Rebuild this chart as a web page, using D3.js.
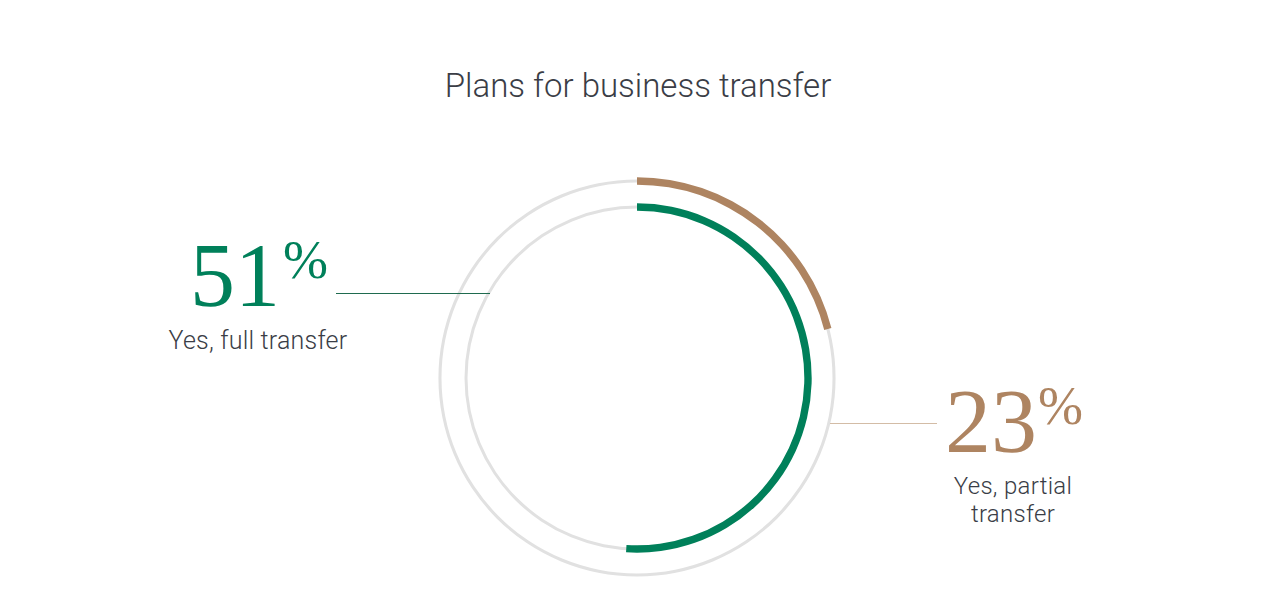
<!DOCTYPE html>
<html>
<head>
<meta charset="utf-8">
<script src="https://cdn.jsdelivr.net/npm/d3@7"></script>
<style>
  body { margin: 0; background: #fff; }
  svg { display: block; }
  .title { font-family: Roboto, sans-serif; font-weight: 300; fill: #3a3d46; }
  .label { font-family: Roboto, sans-serif; font-weight: 300; fill: #3a3d46; }
  .big { font-family: "Liberation Serif", serif; }
</style>
</head>
<body>
<div id="chart"></div>
<script>
// answers shown on the chart
var categories = ["Yes, full transfer", "Yes, partial transfer"];
var percents = [51, 23];
// how far each ring is actually filled in the picture
var arcShares = [51, 21];
var colors = ["#00805a", "#ae8461"];
var lineColors = ["#1f6b4f", "#d3bca6"];

drawRings();

function drawRings() {
	var width = 1280, height = 613;
	var cx = 637, cy = 378;

	var svg = d3.select("#chart").append("svg")
		.attr("width", width)
		.attr("height", height);

	svg.append("text")
		.attr("class", "title")
		.attr("x", cx + 1)
		.attr("y", 97)
		.attr("text-anchor", "middle")
		.style("font-size", "33px")
		.text("Plans for business transfer");

	var g = svg.append("g")
		.attr("transform", "translate(" + cx + "," + cy + ")");

	// inner ring = first category, outer ring = second
	var radius = d3.scaleOrdinal().domain(categories).range([171, 197]);
	var angle = d3.scaleLinear().domain([0, 100]).range([0, 2 * Math.PI]);

	var track = d3.arc()
		.innerRadius(function(d) { return radius(d) - 1.5; })
		.outerRadius(function(d) { return radius(d) + 1.5; })
		.startAngle(0)
		.endAngle(2 * Math.PI);

	g.selectAll("path.track")
		.data(categories)
		.enter().append("path")
		.attr("class", "track")
		.attr("fill", "#e1e1e1")
		.attr("d", track);

	var bar = d3.arc()
		.innerRadius(function(d, i) { return radius(categories[i]) - 3.7; })
		.outerRadius(function(d, i) { return radius(categories[i]) + 3.7; })
		.startAngle(0)
		.endAngle(function(d) { return angle(d); });

	g.selectAll("path.bar")
		.data(arcShares)
		.enter().append("path")
		.attr("class", "bar")
		.attr("fill", function(d, i) { return colors[i]; })
		.attr("d", bar);

	// leader lines
	svg.append("line")
		.attr("x1", 336).attr("x2", 490)
		.attr("y1", 293.5).attr("y2", 293.5)
		.attr("stroke", lineColors[0]).attr("stroke-width", 1);

	svg.append("line")
		.attr("x1", 830).attr("x2", 937)
		.attr("y1", 423.5).attr("y2", 423.5)
		.attr("stroke", lineColors[1]).attr("stroke-width", 1.2);

	// 51% block
	var left = svg.append("g");
	left.append("text")
		.attr("class", "big")
		.attr("x", 190).attr("y", 306)
		.attr("fill", colors[0])
		.style("font-size", "90px")
		.text(percents[0]);
	left.append("text")
		.attr("class", "big")
		.attr("x", 283).attr("y", 278)
		.attr("fill", colors[0])
		.style("font-size", "54px")
		.text("%");
	left.append("text")
		.attr("class", "label")
		.attr("x", 258).attr("y", 349)
		.attr("text-anchor", "middle")
		.style("font-size", "25px")
		.style("letter-spacing", "0.2px")
		.text(categories[0]);

	// 23% block
	var right = svg.append("g");
	right.append("text")
		.attr("class", "big")
		.attr("x", 945).attr("y", 452)
		.attr("fill", colors[1])
		.style("font-size", "92px")
		.text(percents[1]);
	right.append("text")
		.attr("class", "big")
		.attr("x", 1038).attr("y", 424)
		.attr("fill", colors[1])
		.style("font-size", "54px")
		.text("%");
	var words = categories[1].split(" ");
	right.append("text")
		.attr("class", "label")
		.attr("x", 1013).attr("y", 494)
		.attr("text-anchor", "middle")
		.style("font-size", "24px")
		.style("letter-spacing", "0.3px")
		.text(words[0] + " " + words[1]);
	right.append("text")
		.attr("class", "label")
		.attr("x", 1013).attr("y", 522)
		.attr("text-anchor", "middle")
		.style("font-size", "24px")
		.style("letter-spacing", "0.3px")
		.text(words[2]);
}
</script>
</body>
</html>
